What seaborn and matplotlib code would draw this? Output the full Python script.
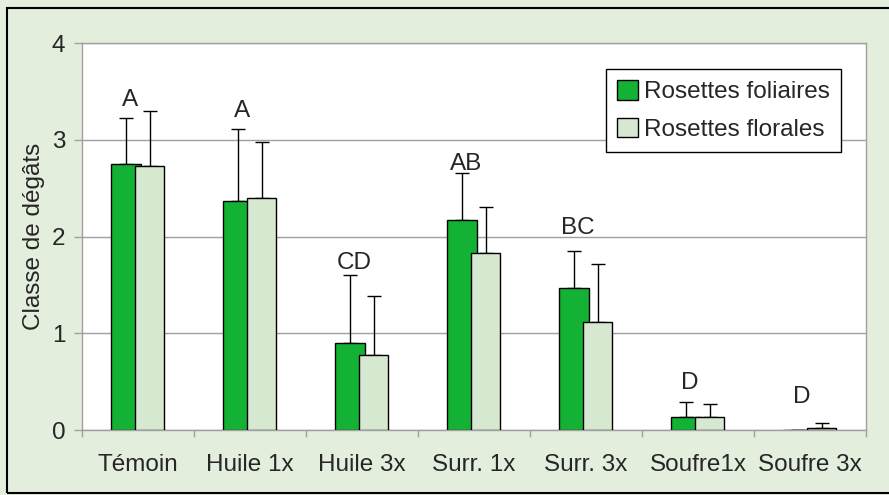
import numpy as np
import pandas as pd
import seaborn as sns
import matplotlib.pyplot as plt
from matplotlib.patches import Rectangle
from matplotlib.ticker import FixedLocator

# données
traitements = ["Témoin", "Huile 1x", "Huile 3x", "Surr. 1x", "Surr. 3x", "Soufre1x", "Soufre 3x"]
series = ["Rosettes foliaires", "Rosettes florales"]
foliaires = [2.75, 2.37, 0.90, 2.17, 1.47, 0.13, 0.0]
florales = [2.73, 2.40, 0.775, 1.83, 1.12, 0.13, 0.02]
err_foliaires = [0.47, 0.74, 0.70, 0.49, 0.38, 0.16, 0.0]
err_florales = [0.57, 0.58, 0.61, 0.47, 0.60, 0.14, 0.055]
lettres = ["A", "A", "CD", "AB", "BC", "D", "D"]
lettres_y = [3.35, 3.24, 1.66, 2.69, 2.03, 0.42, 0.275]

vert = "#13B134"
vert_clair = "#D6E8D0"
fond = "#E4EEDD"
gris = "#A0A0A0"
taille = 17.5

sns.set_style("white")
plt.rcParams["font.family"] = ["Liberation Sans", "DejaVu Sans"]
plt.rcParams["font.size"] = taille

df = pd.DataFrame({
    "traitement": traitements * 2,
    "type": [series[0]] * len(traitements) + [series[1]] * len(traitements),
    "classe": foliaires + florales,
})

fig = plt.figure(figsize=(8.89, 4.95), dpi=100, facecolor=fond)
ax = fig.add_axes([0.0922, 0.1313, 0.8819, 0.7818])

sns.barplot(data=df, x="traitement", y="classe", hue="type", order=traitements,
            hue_order=series, palette=[vert, vert_clair], saturation=1, width=0.42,
            edgecolor="black", linewidth=1, errorbar=None, legend=False, ax=ax)

# barres qui se chevauchent un peu (comme dans Excel)
largeur = 0.263
for cont, err in zip(ax.containers, [err_foliaires, err_florales]):
    xs, hs = [], []
    for p in cont.patches:
        c = p.get_x() + p.get_width() / 2
        p.set_x(c - largeur / 2)
        p.set_width(largeur)
        xs.append(c)
        hs.append(p.get_height())
    ax.errorbar(xs, hs, yerr=[np.zeros(len(err)), err], fmt="none",
                ecolor="black", elinewidth=1, capsize=5, capthick=1, zorder=1)
for p in ax.containers[1].patches:
    p.set_zorder(3)
for p in ax.containers[0].patches:
    p.set_zorder(2)

for i, (lab, yl) in enumerate(zip(lettres, lettres_y)):
    ax.text(i - 0.07, yl, lab, ha="center", va="baseline", fontsize=taille)

ax.set_xlim(-0.5, len(traitements) - 0.5)
ax.set_ylim(0, 4)
ax.set_yticks([0, 1, 2, 3, 4])
ax.yaxis.grid(True, color=gris, linewidth=1)
ax.set_axisbelow(True)
ax.set_facecolor("white")
for s in ax.spines.values():
    s.set_color(gris)
    s.set_linewidth(1)

ax.set_xlabel("")
ax.set_ylabel("Classe de dégâts", fontsize=taille, labelpad=5)
ax.tick_params(axis="y", length=6, width=1, color=gris, pad=6, labelsize=taille, left=True)
ax.tick_params(axis="x", which="major", length=0, pad=17, labelsize=taille)
ax.xaxis.set_minor_locator(FixedLocator(np.arange(-0.5, len(traitements), 1)))
ax.tick_params(axis="x", which="minor", length=5, width=1, color=gris, bottom=True)

ax.legend(handles=ax.containers, labels=series, loc="upper right",
          bbox_to_anchor=(0.968, 0.932), frameon=True, fancybox=False,
          edgecolor="black", framealpha=1, fontsize=taille, handlelength=0.85,
          handleheight=0.85, handletextpad=0.25, labelspacing=0.6,
          borderpad=0.45, borderaxespad=0)
ax.get_legend().get_frame().set_linewidth(1)

fig.patches.append(Rectangle((0.0084, 0.005), 1.0, 0.979, transform=fig.transFigure,
                             fill=False, edgecolor="black", linewidth=1.5))

plt.savefig("out.png", dpi=100, facecolor=fond)
plt.close()
